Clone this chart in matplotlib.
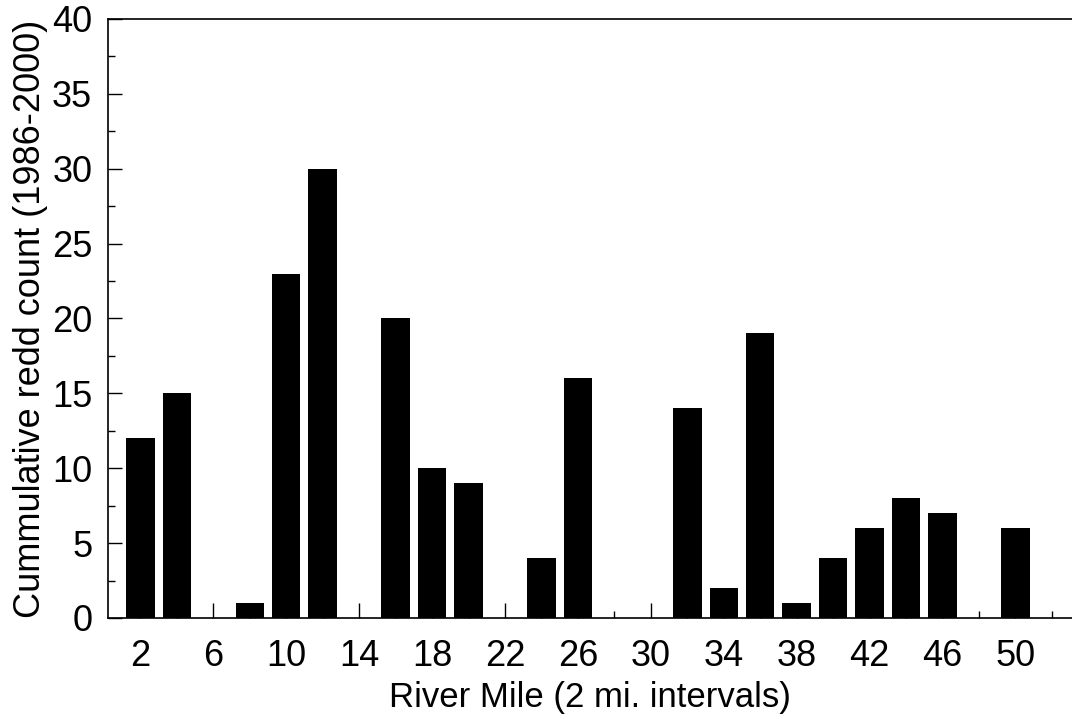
import matplotlib
matplotlib.use('Agg')
import matplotlib.pyplot as plt
from matplotlib.ticker import MultipleLocator

plt.rcParams['font.family'] = ['Liberation Sans', 'DejaVu Sans']

# river mile (2 mi. intervals) and cumulative redd counts
river_mile = [2, 4, 6, 8, 10, 12, 14, 16, 18, 20, 22, 24, 26,
              28, 30, 32, 34, 36, 38, 40, 42, 44, 46, 48, 50, 52]
redd_count = [12, 15, 0, 1, 23, 30, 0, 20, 10, 9, 0, 4, 16,
              0, 0, 14, 2, 19, 1, 4, 6, 8, 7, 0, 6, 0]
x_labels = [2, 6, 10, 14, 18, 22, 26, 30, 34, 38, 42, 46, 50]

fig = plt.figure(figsize=(10.72, 7.19), dpi=100)
ax = fig.add_axes([0.1003, 0.1405, 0.8997, 0.8331])

ax.bar(river_mile, redd_count, width=1.56, color='black', zorder=3)

ax.set_xlim(0.2, 53.1)
ax.set_ylim(0, 40)

ax.set_xticks(x_labels)
ax.xaxis.set_minor_locator(MultipleLocator(2))
ax.yaxis.set_major_locator(MultipleLocator(5))
ax.yaxis.set_minor_locator(MultipleLocator(2.5))

ax.tick_params(axis='both', which='both', direction='in', labelsize=26, width=1)
ax.tick_params(axis='x', which='major', length=10.5, pad=15)
ax.tick_params(axis='x', which='minor', length=5)
ax.tick_params(axis='y', which='major', length=10, pad=11)
ax.tick_params(axis='y', which='minor', length=5)
ax.tick_params(top=False, right=False, which='both')

ax.spines['right'].set_visible(False)
for s in ['top', 'bottom', 'left']:
    ax.spines[s].set_linewidth(1.2)

ax.set_xlabel('River Mile (2 mi. intervals)', fontsize=25, labelpad=5)
ax.set_ylabel('Cummulative redd count (1986-2000)', fontsize=26, labelpad=3)

fig.savefig('out.png', dpi=100)
